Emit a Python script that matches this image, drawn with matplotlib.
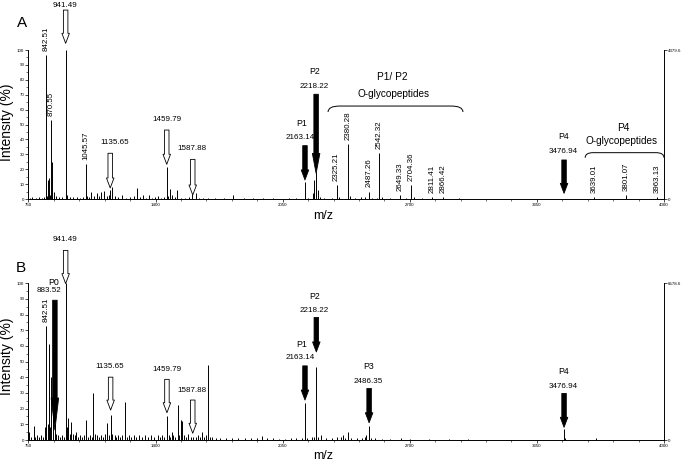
import matplotlib
matplotlib.use('Agg')
import matplotlib.pyplot as plt
from matplotlib.path import Path
from matplotlib.patches import PathPatch

plt.rcParams['font.family'] = ['Liberation Sans', 'DejaVu Sans']

# ---- panel A spectrum (m/z, relative intensity %) ----
a_mz = [758, 770, 790, 805, 820, 830, 839.5, 845, 851, 856, 862, 867, 872, 878, 890,
        905, 920, 940, 946, 960, 980, 1000, 1015, 1030, 1042.6, 1050, 1060, 1070, 1085,
        1099, 1110, 1121, 1135, 1150, 1160, 1167, 1176, 1190, 1210, 1230, 1250, 1270,
        1290, 1303, 1320, 1337, 1350, 1365, 1380, 1395, 1410, 1430, 1445, 1460, 1466,
        1474, 1486, 1497, 1511, 1530, 1550, 1570, 1585, 1605, 1620, 1641, 1670, 1704,
        1750, 1794, 1850, 1900, 1950, 2000, 2080, 2120, 2164, 2180, 2205, 2212, 2221,
        2229, 2240, 2260, 2300, 2326, 2340, 2383, 2394, 2420, 2450, 2470, 2491, 2505,
        2530, 2544, 2560, 2600, 2650, 2680, 2708, 2720, 2760, 2815, 2870, 2950, 3100,
        3300, 3500, 3643, 3805, 3966]
a_int = [1, 1.2, 1, 1.5, 1, 1.5, 96.6, 2, 13, 14, 3, 53, 25, 5, 2,
         1.5, 1.2, 100, 3, 1.5, 1.2, 1.5, 1, 1.5, 23.5, 2, 1.5, 5, 2,
         4, 2, 5, 5.6, 2, 3, 6, 8, 2, 1.5, 3, 1, 1.5,
         2, 7.6, 1.5, 3, 1, 2.5, 1, 1.2, 2, 1, 1.5, 21.7, 2,
         6.5, 3, 1.5, 6, 1, 1, 1.2, 3.5, 3.8, 1, 1, 0.8, 1,
         0.6, 2.7, 0.5, 0.5, 0.4, 0.5, 0.6, 0.6, 11.6, 1, 4, 12.7, 18.3,
         6, 1.5, 0.8, 0.8, 9.2, 1.2, 37, 2, 1, 1.2, 1.5, 5, 1,
         1, 30.6, 1.5, 0.8, 2.5, 0.6, 9.4, 1.2, 0.5, 1.5, 1.2, 0.4, 0.3,
         0.3, 0.3, 1.5, 2.5, 1.5]
a_label_text = ['842.51', '870.55', '1045.57', '2325.21', '2380.28', '2487.26', '2542.32',
                '2649.33', '2704.36', '2811.41', '2866.42', '3639.01', '3801.07', '3963.13']
a_label_mz = [839.5, 867, 1042.6, 2326, 2383, 2491, 2544, 2650, 2708, 2815, 2870, 3643, 3805, 3966]
a_abs_max = 4379.6

# ---- panel B spectrum ----
b_mz = [755, 762, 777, 785, 795, 805, 815, 825, 833, 841, 848, 855, 861, 867, 875, 884,
        892, 900, 910, 920, 930, 940, 946, 952, 960, 969, 978, 988, 995, 1005, 1015,
        1025, 1035, 1046, 1055, 1065, 1075, 1082, 1090, 1100, 1110, 1120, 1130, 1140,
        1153, 1160, 1170, 1178, 1190, 1200, 1210, 1220, 1230, 1245, 1255, 1265, 1275,
        1290, 1300, 1315, 1330, 1345, 1360, 1375, 1390, 1410, 1420, 1431, 1445, 1460,
        1468, 1475, 1482, 1490, 1500, 1513, 1520, 1532, 1537, 1545, 1555, 1567, 1580,
        1593, 1605, 1615, 1625, 1639, 1650, 1660, 1670, 1678, 1690, 1710, 1730, 1760,
        1790, 1820, 1855, 1890, 1920, 1943, 1970, 2000, 2030, 2060, 2090, 2120, 2150,
        2164, 2175, 2200, 2210, 2222, 2233, 2246, 2270, 2300, 2330, 2350, 2360, 2370,
        2386, 2400, 2430, 2455, 2471, 2478, 2492, 2500, 2520, 2560, 2600, 2655, 2700,
        2800, 2900, 3000, 3200, 3400, 3489, 3495, 3651, 3800]
b_int = [5, 2, 9, 2, 3, 2, 3, 2, 8, 72.6, 10, 61, 8, 40, 30, 10,
         4, 3, 2, 3, 2, 100, 8, 14, 4, 11.7, 4, 3, 5, 2, 3,
         2, 3, 12.7, 2, 3, 2, 30, 4, 3, 2, 3, 2, 4,
         11, 3, 16, 4, 3, 2, 3, 2, 3, 24, 2, 3, 2,
         3, 2, 3, 2, 3, 2, 3, 2, 3, 2, 3, 2, 15.3,
         3, 2, 5, 3, 2, 22.3, 3, 13, 12, 3, 2, 4, 2,
         2, 2, 3, 2, 5, 2, 3, 48, 2, 2, 1.5, 1.5, 1,
         1.5, 1, 1.5, 1, 1, 2.5, 1, 1, 0.8, 0.8, 1, 1, 1.5,
         23.4, 1.5, 2, 2, 46.7, 2, 3, 1, 1, 2, 2, 3, 1.5,
         5, 1, 1, 1, 2, 3, 9, 1.5, 1, 0.8, 0.6, 1, 0.6,
         0.5, 0.4, 0.4, 0.3, 0.3, 6.8, 1, 1, 0.3]
b_label_text = ['842.51']
b_label_mz = [841]
b_abs_max = 6578.6

PX = 0.72  # points per pixel at 100 dpi


def arrow(ax, mz, top, tip, filled, head_px=10):
    style = 'simple,head_length=%.2f,head_width=%.2f,tail_width=%.2f' % (
        head_px * PX, 7.5 * PX, 4.5 * PX)
    ax.annotate('', xy=(mz, tip), xytext=(mz, top), annotation_clip=False,
                arrowprops=dict(arrowstyle=style, mutation_scale=1, lw=0.6,
                                fc='black' if filled else 'white', ec='black',
                                shrinkA=0, shrinkB=0), zorder=5)


def bracket(ax, x0, x1, y_low, y_top, dx):
    verts = [(x0, y_low), (x0, y_top), (x0 + dx, y_top), (x1 - dx, y_top),
             (x1, y_top), (x1, y_low)]
    codes = [Path.MOVETO, Path.CURVE3, Path.CURVE3, Path.LINETO, Path.CURVE3, Path.CURVE3]
    ax.add_patch(PathPatch(Path(verts, codes), fill=False, lw=0.7, ec='black', clip_on=False))


def setup_panel(ax, mz, inten, label_text, label_mz, abs_max):
    ax.vlines(mz, 0, inten, color='black', lw=0.7)
    ax.set_xlim(750, 4000)
    ax.set_ylim(0, 100)
    ax.set_xticks([750, 1400, 2050, 2700, 3350, 4000])
    ax.set_xticks(range(880, 4000, 130), minor=True)
    ax.set_yticks(range(0, 101, 10))
    ax.set_yticks(range(5, 100, 10), minor=True)
    ax.tick_params(labelsize=3.2, length=2, width=0.5, pad=1)
    ax.tick_params(which='minor', length=1.2, width=0.4)
    ax.spines['top'].set_visible(False)
    ax.spines['right'].set_visible(False)
    for s in ('left', 'bottom'):
        ax.spines[s].set_linewidth(0.7)
    for txt, m in zip(label_text, label_mz):
        h = inten[mz.index(m)]
        ax.annotate(txt, xy=(m, h), xytext=(0, 3), textcoords='offset points',
                    rotation=90, ha='center', va='bottom', fontsize=5.7,
                    annotation_clip=False)
    ax2 = ax.twinx()
    ax2.set_ylim(0, abs_max)
    ax2.set_yticks([0, abs_max])
    ax2.set_yticklabels(['0', '%.1f' % abs_max])
    ax2.tick_params(labelsize=3.2, length=2, width=0.5, pad=1)
    for s in ('top', 'left', 'bottom'):
        ax2.spines[s].set_visible(False)
    ax2.spines['right'].set_linewidth(0.7)


def txt(ax, x, y, s, size=5.8):
    ax.text(x, y, s, ha='center', va='center', fontsize=size, zorder=6)


fig = plt.figure(figsize=(6.85, 4.61), dpi=100)
axA = fig.add_axes([0.0416, 0.5683, 0.9277, 0.3232])
axB = fig.add_axes([0.0416, 0.04555, 0.9277, 0.3399])

setup_panel(axA, a_mz, a_int, a_label_text, a_label_mz, a_abs_max)
setup_panel(axB, b_mz, b_int, b_label_text, b_label_mz, b_abs_max)

# panel A annotations
arrow(axA, 940, 126.8, 104.5, False)
txt(axA, 937, 130.2, '941.49')
arrow(axA, 1168, 30.7, 7.4, False)
txt(axA, 1192, 37.6, '1135.65')
arrow(axA, 1457, 46.3, 23.3, False)
txt(axA, 1458, 53.7, '1459.79')
arrow(axA, 1590, 26.6, 2.7, False)
txt(axA, 1585, 33.8, '1587.88')
arrow(axA, 2164, 35.8, 12.8, True)
txt(axA, 2139, 41.1, '2163.14')
txt(axA, 2147, 50.8, 'P1', 6.3)
arrow(axA, 2221, 70.3, 17.2, True, head_px=20)
txt(axA, 2211, 75.8, '2218.22')
txt(axA, 2215, 85.4, 'P2', 6.3)
arrow(axA, 3489, 26.2, 3.8, True)
txt(axA, 3485, 31.7, '3476.94')
txt(axA, 3485, 41.8, 'P4', 6.3)
bracket(axA, 2282, 2972, 58.4, 62.4, 60)
txt(axA, 2609, 82.1, 'P1/ P2', 7.3)
txt(axA, 2619, 70.5, 'O-glycopeptides', 7.2)
bracket(axA, 3597, 4000, 27.7, 31.1, 40)
txt(axA, 3790, 47.4, 'P4', 7.3)
txt(axA, 3784, 39.1, 'O-glycopeptides', 7.2)

# panel B annotations
arrow(axB, 940, 121, 99.8, False)
txt(axB, 937, 128, '941.49')
arrow(axB, 885, 89.2, 6.4, True, head_px=32)
txt(axB, 856, 95.1, '883.52')
txt(axB, 877, 100.8, 'P0', 6.3)
arrow(axB, 1170, 40.1, 19.1, False)
txt(axB, 1167, 46.7, '1135.65')
arrow(axB, 1458, 38.7, 17.4, False)
txt(axB, 1458, 45.2, '1459.79')
arrow(axB, 1590, 25.5, 4.3, False)
txt(axB, 1585, 31.4, '1587.88')
arrow(axB, 2164, 47.3, 25.5, True)
txt(axB, 2139, 52.4, '2163.14')
txt(axB, 2147, 61.1, 'P1', 6.3)
arrow(axB, 2222, 78.2, 56.2, True)
txt(axB, 2209, 82.8, '2218.22')
txt(axB, 2215, 91.7, 'P2', 6.3)
arrow(axB, 2492, 32.9, 11.0, True)
txt(axB, 2488, 37.1, '2486.35')
txt(axB, 2488, 46.7, 'P3', 6.3)
arrow(axB, 3489, 29.7, 8.1, True)
txt(axB, 3485, 34.4, '3476.94')
txt(axB, 3485, 43.5, 'P4', 6.3)

# figure-level texts
fig.text(7 / 685, 1 - 122 / 461, 'Intensity (%)', rotation=90, ha='center', va='center', fontsize=10)
fig.text(7 / 685, 1 - 356 / 461, 'Intensity (%)', rotation=90, ha='center', va='center', fontsize=10)
fig.text(323 / 685, 1 - 216 / 461, 'm/z', ha='center', va='center', fontsize=9)
fig.text(323 / 685, 1 - 456 / 461, 'm/z', ha='center', va='center', fontsize=9)
fig.text(22 / 685, 1 - 23 / 461, 'A', ha='center', va='center', fontsize=11)
fig.text(21 / 685, 1 - 268 / 461, 'B', ha='center', va='center', fontsize=11)

fig.savefig('out.png', dpi=100)
